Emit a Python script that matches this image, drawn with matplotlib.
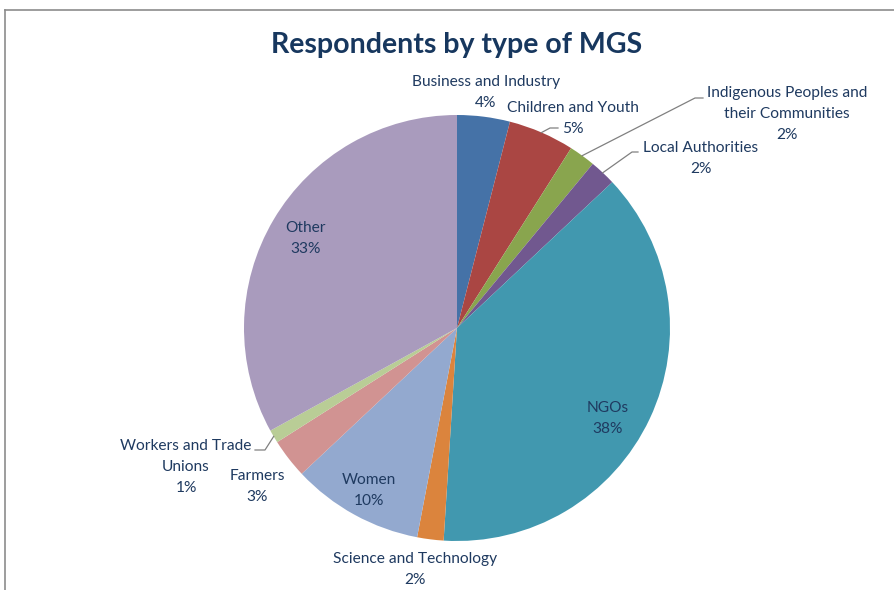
import numpy as np
import matplotlib
matplotlib.use("Agg")
import matplotlib.pyplot as plt
from matplotlib.lines import Line2D

categories = ["Business and Industry", "Children and Youth",
              "Indigenous Peoples and\ntheir Communities", "Local Authorities",
              "NGOs", "Science and Technology", "Women", "Farmers",
              "Workers and Trade\nUnions", "Other"]
shares = [4, 5, 2, 2, 38, 2, 10, 3, 1, 33]
colors = ["#4572A7", "#AA4643", "#89A54E", "#71588F", "#4198AF",
          "#DB843D", "#93A9CF", "#D19392", "#B9CD96", "#A99BBD"]

W, H = 895, 590
fig = plt.figure(figsize=(W / 100, H / 100), dpi=100)
ax = fig.add_axes([0, 0, 1, 1])


def py(y):
    """Convert a top-down pixel row to the axes' y-up coordinate."""
    return H - y


cx, cy, r = 457, py(328), 213
wedges, _ = ax.pie(shares, colors=colors, startangle=90, counterclock=False,
                   center=(cx, cy), radius=r, frame=True,
                   wedgeprops=dict(linewidth=0))
ax.set_xlim(0, W)
ax.set_ylim(0, H)
ax.set_aspect("equal")
ax.axis("off")

text_color = "#1F3A60"
font = ["Lato", "DejaVu Sans"]

# centre x and first-line y of each category label
label_pos = [(486, 82), (573, 108), (787, 93), (701, 148), (608, 408),
             (415, 559), (369, 480), (257, 476), (186, 446), (306, 228)]
line_step = 21
# elbow points of leader lines, plus horizontal tails
leaders = {1: (550, 128), 2: (695, 98), 3: (632, 152), 8: (265, 450)}
leader_tail = {1: 558, 2: 703, 3: 638, 8: 255}

for i, (cat, val) in enumerate(zip(categories, shares)):
    x, y = label_pos[i]
    lines = cat.split("\n") + [f"{val}%"]
    for k, s in enumerate(lines):
        ax.text(x, py(y + k * line_step), s, ha="center", va="center",
                fontsize=11.2, color=text_color, family=font)

# leader lines from wedge rims to labels
theta = []
cum = 0
for v in shares:
    mid = 90 - 360 * (cum + v / 2) / sum(shares)
    theta.append(np.deg2rad(mid))
    cum += v
for i, (lx, ly) in leaders.items():
    sx = cx + r * np.cos(theta[i])
    sy = cy + r * np.sin(theta[i])
    xs = [sx, lx, leader_tail[i]]
    ys = [sy, py(ly), py(ly)]
    ax.plot(xs, ys, color="#808080", lw=0.9)

ax.text(457, py(45), "Respondents by type of MGS", ha="center", va="center",
        fontsize=20.5, fontweight="bold", color="#17375E", family=font)

# chart frame (top and left edges)
fig.add_artist(Line2D([5 / W, 1], [1 - 10 / H, 1 - 10 / H], color="#8C8C8C", lw=1.2))
fig.add_artist(Line2D([5 / W, 5 / W], [0, 1 - 10 / H], color="#8C8C8C", lw=1.2))

fig.savefig("out.png", dpi=100)
